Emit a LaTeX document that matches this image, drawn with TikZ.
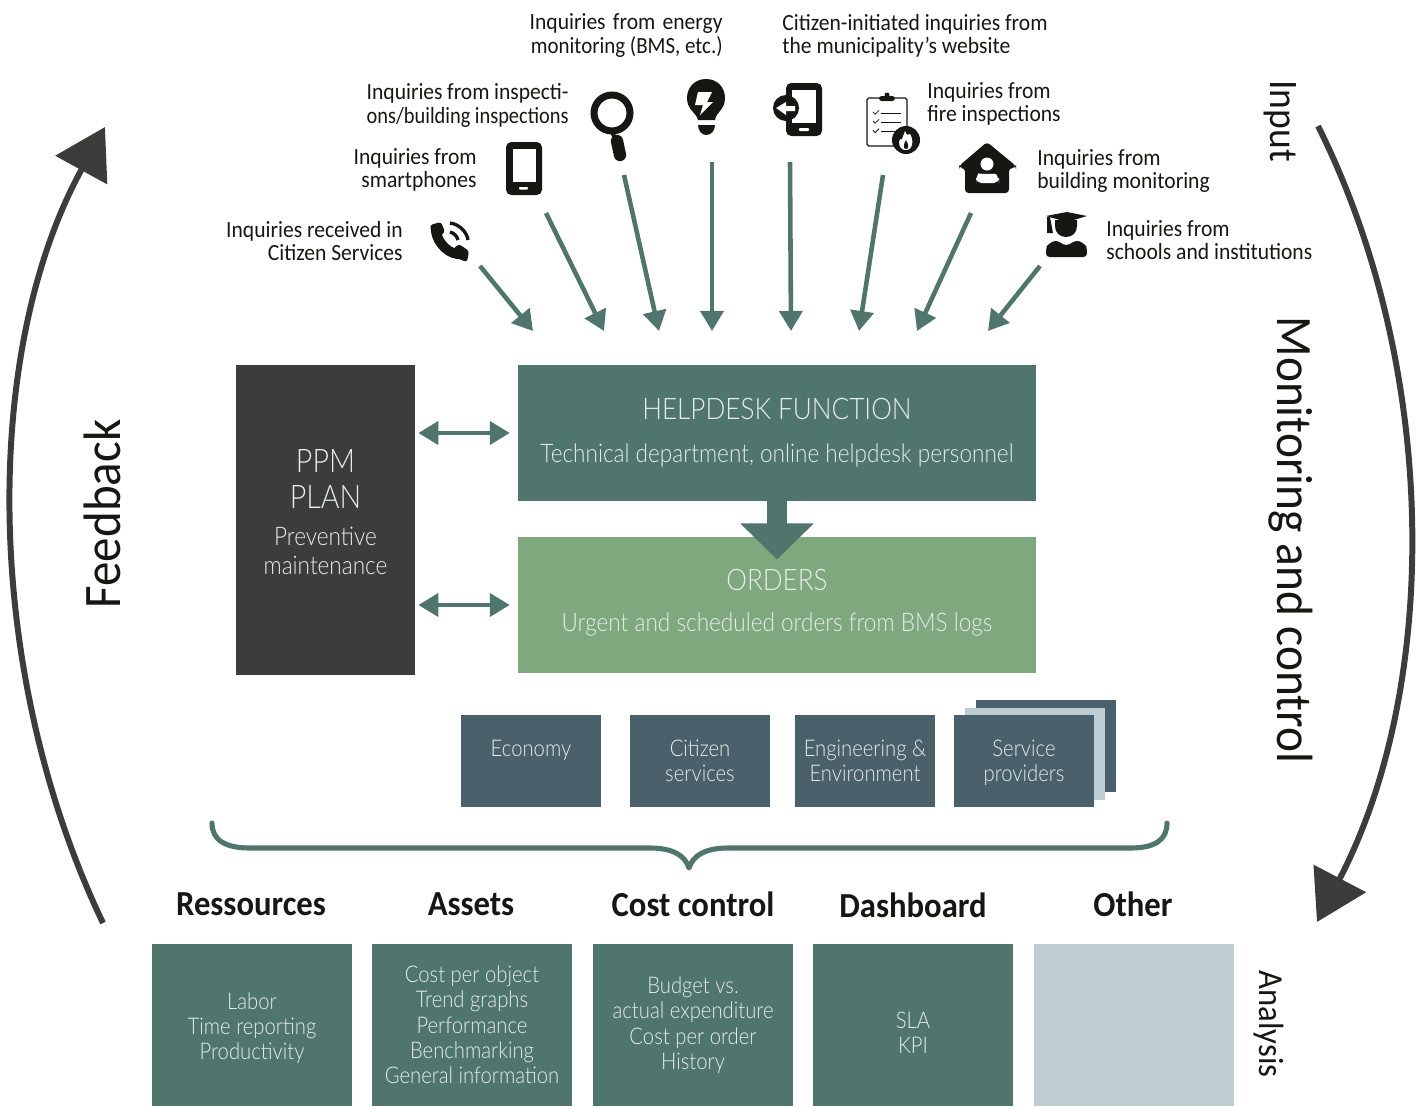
\documentclass[tikz,border=0pt]{standalone}
\usepackage{fontspec}
\usepackage{graphicx}
\setmainfont[FakeStretch=0.93]{Carlito}
\newfontfamily\thinfont[UprightFont=* Light,FakeStretch=0.88]{Lato}
\usetikzlibrary{arrows.meta}
\definecolor{tealbox}{HTML}{4F756D}
\definecolor{greenbox}{HTML}{7FA87E}
\definecolor{darkbox}{HTML}{3C3C3A}
\definecolor{slatebox}{HTML}{4A606B}
\definecolor{palebox}{HTML}{BECDD2}
\definecolor{palefont}{HTML}{E6EDEB}
\definecolor{iconblack}{HTML}{161613}
\newcommand{\stretched}[2]{\makebox[#1][s]{#2}}
\newcommand{\bigline}[1]{{\fontsize{18.5}{21}\selectfont #1}}
\newcommand{\titleline}[1]{{\fontsize{16.9}{19}\selectfont #1}}
\newcommand{\subline}[1]{{\fontsize{14.6}{15}\selectfont #1}}
\tikzset{
	inqtext/.style={inner sep=0pt, font=\fontsize{13.2}{13.4}\selectfont, text=iconblack},
	head/.style={inner sep=0pt, font=\fontsize{20}{22}\bfseries\selectfont, text=iconblack},
	sidetext/.style={inner sep=0pt, text=iconblack},
	box/.style={inner sep=0pt, align=center, text=palefont, font=\thinfont\fontsize{13.1}{14.4}\selectfont},
	smallbox/.style={box, fill=slatebox, minimum width=2.8cm, minimum height=1.84cm},
	lowbox/.style={box, fill=tealbox, minimum width=4cm, minimum height=3.24cm},
	inq/.style={draw=tealbox, line width=2.6pt, -{Triangle[length=11.4pt,width=13pt]}},
	link/.style={draw=tealbox, line width=2.6pt, {Triangle[length=11.4pt,width=13pt]}-{Triangle[length=11.4pt,width=13pt]}, shorten <=1.7pt, shorten >=4.5pt},
	loop/.style={draw=darkbox, line width=3.4pt, -{Triangle[length=28pt,width=33pt]}},
}
\begin{document}
\begin{tikzpicture}[x=0.02cm, y=-0.02cm, line join=round]
	\useasboundingbox (0,0) rectangle (1420,1106);
	\path
	(480,266) coordinate (callS)   (533,331) coordinate (callE)
	(546,213) coordinate (smartS)  (604,331) coordinate (smartE)
	(624,175) coordinate (lensS)   (659,331) coordinate (lensE)
	(712,162) coordinate (bulbS)   (712,331) coordinate (bulbE)
	(790,162) coordinate (webS)    (791,331) coordinate (webE)
	(883,175) coordinate (fireS)   (859,331) coordinate (fireE)
	(971,213) coordinate (homeS)   (917,331) coordinate (homeE)
	(1040,266) coordinate (capS)   (988,331) coordinate (capE)
	(103,923) coordinate (backS)   (105,127) coordinate (backE)
	(1318,126) coordinate (ctrlS)  (1317,922) coordinate (ctrlE)
	;
	% boxes
	\node[box, fill=darkbox, minimum width=3.58cm, minimum height=6.2cm] (ppm) at (325.5,520)
	{\bigline{PPM}\\[6pt]\bigline{PLAN}\\[6.7pt]\subline{Preventive}\\[2pt]\subline{maintenance}\rule[-9pt]{0pt}{0pt}};
	\node[box, fill=tealbox, minimum width=10.36cm, minimum height=2.72cm] (helpdesk) at (777,433)
	{\titleline{HELPDESK FUNCTION}\\[10pt]\subline{Technical department, online helpdesk personnel}\rule[-3pt]{0pt}{0pt}};
	\node[box, fill=greenbox, minimum width=10.36cm, minimum height=2.72cm] (orders) at (777,605)
	{\titleline{ORDERS}\\[9pt]\subline{Urgent and scheduled orders from BMS logs}\rule[-5pt]{0pt}{0pt}};
	\node[smallbox] (provC) at (1046,746) {};
	\node[smallbox, fill=palebox] (provB) at (1035,754) {};
	\node[smallbox] (economy) at (531,761) {Economy\\\mbox{}};
	\node[smallbox] (citizen) at (700,761) {Citizen\\services};
	\node[smallbox] (engineering) at (865,761) {Engineering \&\\Environment};
	\node[smallbox] (providers) at (1024,761) {Service\\\smash{providers}};
	\node[lowbox] (labor) at (252,1025) {\rule{0pt}{13pt}Labor\\Time reporting\\Productivity};
	\node[lowbox] (object) at (472,1025) {Cost per object\\Trend graphs\\Performance\\Benchmarking\\General information};
	\node[lowbox] (budget) at (693,1025) {Budget vs.\\actual expenditure\\Cost per order\\History};
	\node[lowbox] (sla) at (913,1025) {\rule{0pt}{18pt}SLA\\KPI};
	\node[lowbox, fill=palebox] (other) at (1134,1025) {};
	% arrows
	\foreach \s/\e in {callS/callE,smartS/smartE,lensS/lensE,bulbS/bulbE,webS/webE,fireS/fireE,homeS/homeE,capS/capE}
	\draw[inq] (\s)--(\e);
	\draw[link] (ppm.east |- helpdesk.west)--(helpdesk.west);
	\draw[link] (ppm.east |- orders.west)--(orders.west);
	\draw[draw=tealbox, line width=11.7pt, -{Triangle[length=20.5pt,width=40.5pt]}, shorten >=-13pt] (helpdesk.south)--(orders.north);
	\draw[loop] (backS) .. controls (-18,670) and (-18,350) .. (backE);
	\draw[loop] (ctrlS) .. controls (1440,370) and (1440,687) .. (ctrlE);
	\draw[tealbox, line width=2.9pt, line cap=round] (212,823) .. controls (212,840) and (225,848) .. (250,848) -- (650,848) .. controls (672,848) and (685,855) .. (689,868) .. controls (693,855) and (706,848) .. (728,848) -- (1130,848) .. controls (1155,848) and (1167,840) .. (1167,823);
	% inquiry texts
	\node[inqtext, anchor=east, align=right] (callT) at (403,241) {Inquiries received in\\Citizen Services};
	\node[inqtext, anchor=east, align=right] (smartT) at (477,170) {\stretched{2.46cm}{Inquiries from}\\smartphones};
	\node[inqtext, anchor=east, align=left] (lensT) at (569,105.5) {\stretched{4.04cm}{Inquiries from inspecti-}\\\scalebox{0.945}[1]{ons/building inspections}};
	\node[inqtext, anchor=east, align=right] (bulbT) at (723,35.5) {\stretched{3.86cm}{Inquiries from energy}\\\scalebox{0.97}[1]{monitoring (BMS, etc.)}};
	\node[inqtext, anchor=west, align=left] (webT) at (782,36) {Citizen-initiated inquiries from\\the municipality's website};
	\node[inqtext, anchor=west, align=left] (fireT) at (927,104) {Inquiries from\\fire inspections};
	\node[inqtext, anchor=west, align=left] (homeT) at (1037,171) {Inquiries from\\building monitoring};
	\node[inqtext, anchor=west, align=left] (capT) at (1106,240) {Inquiries from\\schools and institutions};
	% headings
	\node[head] (resH) at (251,904.5) {Ressources};
	\node[head] (assetH) at (471,904.5) {Assets};
	\node[head] (costH) at (693,904.5) {Cost control};
	\node[head] (dashH) at (913,905.5) {Dashboard};
	\node[head] (otherH) at (1133,904.5) {Other};
	% side labels
	\node[sidetext, rotate=-90, font=\fontsize{23}{25}\selectfont] (inputT) at (1280,121) {Input};
	\node[sidetext, rotate=-90, font=\fontsize{29}{31}\selectfont] (monT) at (1291,540) {Monitoring and control};
	\node[sidetext, rotate=-90, font=\fontsize{20}{22}\selectfont] (analysisT) at (1269,1024) {Analysis};
	\node[sidetext, rotate=90, font=\fontsize{30}{32}\selectfont] (feedT) at (102,514) {Feedback};
	% icon: phone call
	\draw[iconblack, line width=5.6pt, line cap=round] (436,231) .. controls (437,243) and (450,256) .. (462,254);
	\fill[iconblack, rounded corners=1.5pt] (430,225) -- (441,222) -- (445,232) -- (438,238) -- (432,236) -- cycle;
	\fill[iconblack, rounded corners=1.5pt] (453,249) -- (459,244) -- (469,251) -- (467,262) -- (456,258) -- cycle;
	\draw[iconblack, line width=1.9pt] (450,232) .. controls (454,233) and (457,236) .. (458,240);
	\draw[iconblack, line width=1.9pt] (450,223) .. controls (459,224) and (467,232) .. (468,240);
	% icon: smartphone
	\fill[iconblack, rounded corners=3pt] (506,142) rectangle (542,195);
	\fill[white] (513,149) rectangle (536,182);
	\fill[white, rounded corners=0.5pt] (519,187) rectangle (528,189.5);
	% icon: magnifier
	\draw[iconblack, line width=4pt] (612,113) circle (18);
	\draw[iconblack, line width=2.4pt] (612,132)--(617,142);
	\draw[iconblack, line width=7pt, line cap=round] (617,141)--(620,155);
	% icon: bulb
	\fill[iconblack] (698,120) .. controls (696,112) and (687,110) .. (687,98) .. controls (687,87) and (695,79) .. (706,79) .. controls (717,79) and (725,87) .. (725,98) .. controls (725,110) and (716,112) .. (715,120) -- cycle;
	\fill[iconblack] (698,125) -- (715,125) .. controls (715,131) and (711,135) .. (706,135) .. controls (702,135) and (698,131) .. (698,125) -- cycle;
	\fill[white] (698,92) -- (712,92) -- (707,102) -- (713,102) -- (700,115) -- (703,105) -- (695,105) -- cycle;
	% icon: website
	\fill[iconblack, rounded corners=3pt] (786,83) rectangle (822,136);
	\fill[white] (792,90) rectangle (816,123);
	\fill[white, rounded corners=0.5pt] (799,128) rectangle (809,131);
	\fill[iconblack] (786,108) circle (13);
	\fill[white] (776,108) -- (786,102) -- (786,106) -- (795,106) -- (795,111) -- (786,111) -- (786,115) -- cycle;
	% icon: fire inspection
	\draw[iconblack, line width=0.7pt, rounded corners=1pt] (867,98) rectangle (907,146);
	\fill[iconblack, rounded corners=1.5pt] (879,96) rectangle (895,101);
	\fill[iconblack] (887,95) circle (2.5);
	\foreach \y in {113.3,122.3,131.7} {
		\draw[iconblack, line width=0.9pt] (881,\y)--(901,\y);
		\draw[iconblack, line width=0.45pt] (873,\y-1.5)--(875,\y+1)--(879,\y-3);
	}
	\fill[iconblack] (906,140) circle (14);
	\fill[white] (906,150) .. controls (899,150) and (898,143) .. (900,139) .. controls (902,141) and (902,139) .. (905,131) .. controls (906,135) and (909,136) .. (910,134) .. controls (914,140) and (913,150) .. (906,150) -- cycle;
	\fill[iconblack] (906,149) .. controls (903,149) and (903,145) .. (906,140) .. controls (909,145) and (909,149) .. (906,149) -- cycle;
	% icon: home
	\fill[iconblack, rounded corners=2pt] (987,142) -- (1016,166) -- (1016,168) -- (1009,168) -- (1009,193) -- (965,193) -- (965,168) -- (959,168) -- (959,166) -- cycle;
	\fill[white] (987,164) circle (6.5);
	\fill[white, rounded corners=3pt] (976,183) -- (976,178) .. controls (978,174) and (996,174) .. (999,178) -- (999,183) -- cycle;
	% icon: graduate
	\fill[iconblack] (1067,212) -- (1087,216) -- (1067,222) -- (1046,216) -- cycle;
	\fill[iconblack] (1055,220) -- (1077,220) -- (1077,226) .. controls (1077,233) and (1072,237) .. (1066,237) .. controls (1060,237) and (1055,233) .. (1055,226) -- cycle;
	\fill[iconblack] (1047,217) -- (1050,217) -- (1053,233) -- (1047,233) -- cycle;
	\fill[iconblack, rounded corners=2pt] (1046,257) -- (1046,250) .. controls (1047,245) and (1052,242) .. (1056,240) -- (1066,246) -- (1077,240) .. controls (1081,242) and (1086,245) .. (1087,250) -- (1087,257) -- cycle;
\end{tikzpicture}
\end{document}
